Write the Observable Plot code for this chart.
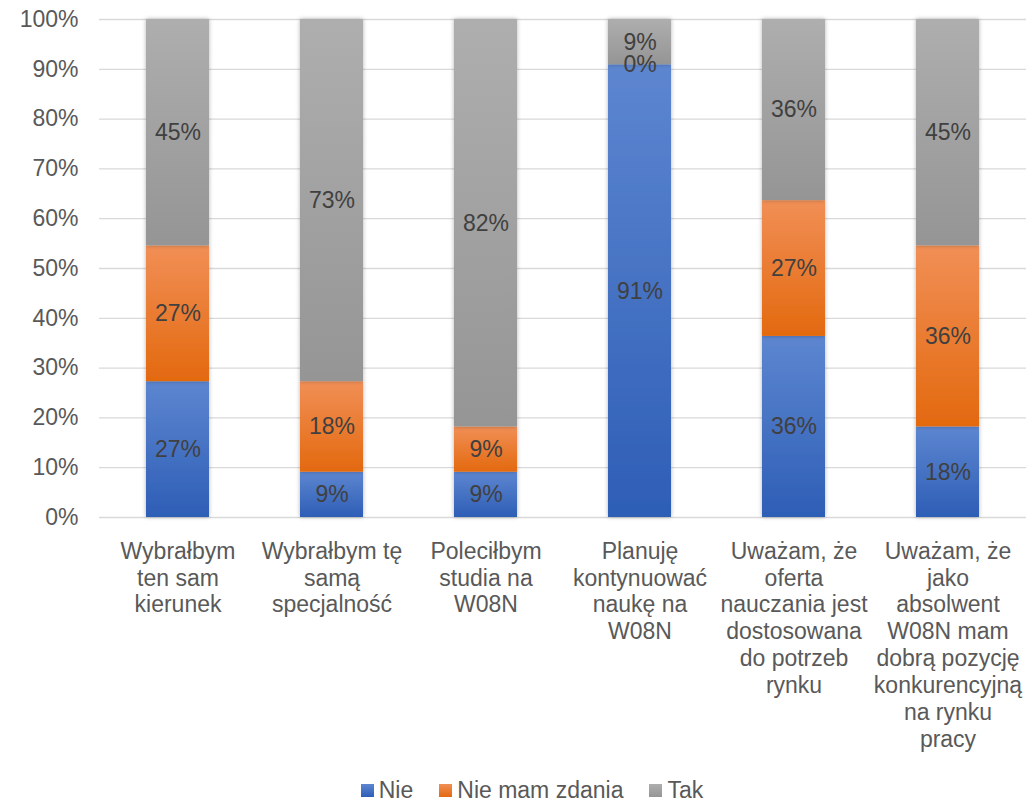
<!DOCTYPE html>
<html><head><meta charset="utf-8">
<script src="https://cdn.jsdelivr.net/npm/d3@7"></script>
<script src="https://cdn.jsdelivr.net/npm/@observablehq/plot@0.6"></script>
<style>
body{margin:0;background:#fff;font-family:"Liberation Sans",Arial,sans-serif;}
#chart svg{display:block;}
#legend{display:flex;justify-content:center;align-items:center;height:36px;padding-left:38px;font-size:23px;color:#595959;}
#legend .item{display:flex;align-items:center;margin:0 13px;}
#legend .sw{width:13px;height:13px;margin-right:5px;}
</style></head><body>
<div id="chart"></div>
<div id="legend"></div>
<script>
const categories = [
  "Wybrałbym\nten sam\nkierunek",
  "Wybrałbym tę\nsamą\nspecjalność",
  "Poleciłbym\nstudia na\nW08N",
  "Planuję\nkontynuować\nnaukę na\nW08N",
  "Uważam, że\noferta\nnauczania jest\ndostosowana\ndo potrzeb\nrynku",
  "Uważam, że\njako\nabsolwent\nW08N mam\ndobrą pozycję\nkonkurencyjną\nna rynku\npracy"
];
const series = ["Nie", "Nie mam zdania", "Tak"];
const nie  = [27.27, 9.09, 9.09, 90.91, 36.36, 18.18];
const brak = [27.27, 18.18, 9.09, 0, 27.27, 36.36];
const tak  = [45.45, 72.73, 81.82, 9.09, 36.36, 45.45];
const yTicks = [0, 10, 20, 30, 40, 50, 60, 70, 80, 90, 100];

const grads = [
  {id: "gNie", top: "#5D86D0", bottom: "#2E5EB6"},
  {id: "gBrak", top: "#F18F56", bottom: "#E3690F"},
  {id: "gTak", top: "#AEAEAE", bottom: "#959595"}
];

const values = [nie, brak, tak];
const data = [];
series.forEach((s, si) => categories.forEach((c, i) => data.push({category: c, series: s, value: values[si][i]})));

const defs = () => {
  const d = d3.create("svg:defs");
  for (const g of grads) {
    const lg = d.append("linearGradient").attr("id", g.id).attr("x1", 0).attr("y1", 0).attr("x2", 0).attr("y2", 1);
    lg.append("stop").attr("offset", "0%").attr("stop-color", g.top);
    lg.append("stop").attr("offset", "100%").attr("stop-color", g.bottom);
  }
  const f = d.append("filter").attr("id", "shadow").attr("x", "-30%").attr("y", "-10%").attr("width", "160%").attr("height", "120%");
  f.append("feDropShadow").attr("dx", 0).attr("dy", 0).attr("stdDeviation", 2.2).attr("flood-color", "#000").attr("flood-opacity", 0.3);
  return d.node();
};

const chart = Plot.plot({
  width: 1026, height: 772,
  marginLeft: 99, marginRight: 0, marginTop: 19, marginBottom: 255,
  style: {fontFamily: '"Liberation Sans", Arial, sans-serif', fontSize: "23px", background: "white", color: "#595959"},
  x: {domain: categories, paddingInner: 0.592, paddingOuter: 0.296},
  y: {domain: [0, 100]},
  color: {domain: series, range: grads.map(g => `url(#${g.id})`)},
  marks: [
    defs,
    Plot.gridY(yTicks, {stroke: "#d9d9d9", strokeOpacity: 1, strokeWidth: 1.3}),
    Plot.barY(data, {x: "category", y: "value", fill: "series", z: "series"}),
    Plot.text(data, Plot.stackY({x: "category", y: "value", z: "series", text: d => Math.round(d.value) + "%", fill: "#404040", fontSize: 23})),
    Plot.axisY(yTicks, {tickSize: 0, tickPadding: 21, tickFormat: d => d + "%", fontSize: 23, fill: "#595959", label: null}),
    Plot.axisX({tickSize: 0, tickPadding: 22, lineHeight: 1.17, fontSize: 23, fill: "#595959", label: null})
  ]
});
d3.select(chart).selectAll('g[aria-label="bar"] rect').attr("filter", "url(#shadow)");
document.getElementById("chart").appendChild(chart);

const legend = d3.select("#legend");
series.forEach((s, i) => {
  const it = legend.append("div").attr("class", "item");
  it.append("div").attr("class", "sw").style("background", `linear-gradient(${grads[i].top}, ${grads[i].bottom})`);
  it.append("span").text(s);
});
</script>
</body></html>
